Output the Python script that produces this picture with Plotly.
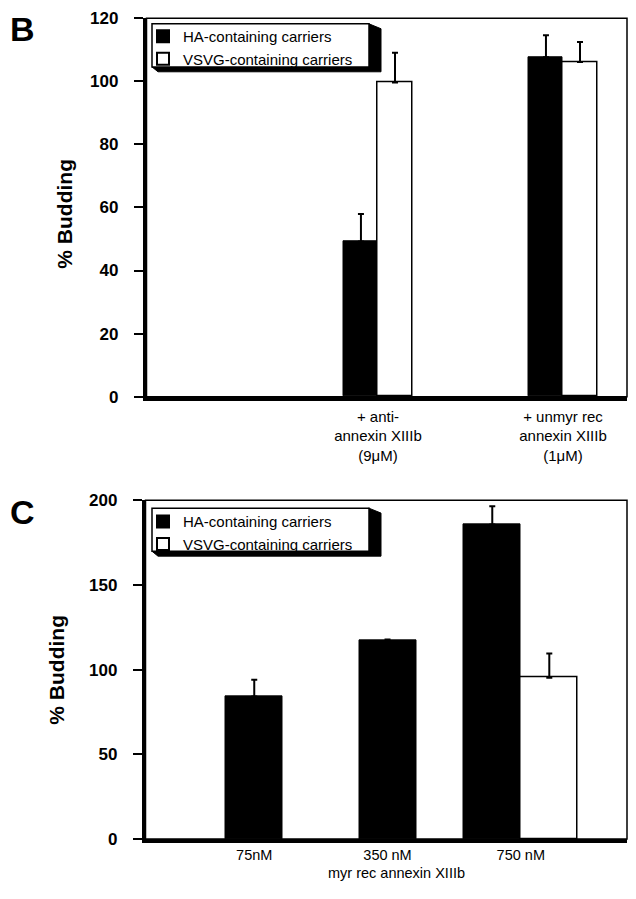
import plotly.graph_objects as go

# ---------------- data ----------------
cats_B = ["+ anti-<br>annexin XIIIb<br>(9μM)", "+ unmyr rec<br>annexin XIIIb<br>(1μM)"]
ha_B = [49.2, 107.6]
ha_B_err = [8.7, 7.0]
vsvg_B = [99.6, 106.1]
vsvg_B_err = [9.5, 6.4]
yticks_B = [0, 20, 40, 60, 80, 100, 120]

cats_C = ["75nM", "350 nM", "750 nM"]
ha_C = [84.2, 117.2, 185.7]
ha_C_err = [9.8, 0.6, 10.9]
vsvg_C = [None, None, 95.2]
vsvg_C_err = [0, 0, 14.3]
yticks_C = [0, 50, 100, 150, 200]

series_names = ["HA-containing carriers", "VSVG-containing carriers"]
xtitle_C = "myr rec annexin XIIIb"
ytitle = "% Budding"

# ---------------- layout helpers ----------------
PAGE_MARGIN = 8          # default body margin of the html page
W, H = 636 - 2 * PAGE_MARGIN, 899 - 2 * PAGE_MARGIN

def clamp(v):
    return max(0.0, min(1.0, v))

def px(x):
    return clamp((x - PAGE_MARGIN) / W)

def py(y):
    return clamp(1 - (y - PAGE_MARGIN) / H)

FONT = "Liberation Sans, Arial, Helvetica, sans-serif"

wB = 0.184
wC = 0.428

fig = go.Figure()

def err(arr):
    return dict(type="data", array=arr, arrayminus=[0] * len(arr), symmetric=False,
                color="black", thickness=2, width=3)

# Panel B
fig.add_trace(go.Bar(
    x=cats_B, y=ha_B, name=series_names[0], width=wB, offset=-wB,
    marker=dict(color="black", line=dict(color="black", width=1)),
    error_y=err(ha_B_err), xaxis="x", yaxis="y", legend="legend"))
fig.add_trace(go.Bar(
    x=cats_B, y=vsvg_B, name=series_names[1], width=wB, offset=0,
    marker=dict(color="white", line=dict(color="black", width=1.5)),
    error_y=err(vsvg_B_err), xaxis="x", yaxis="y", legend="legend"))

# Panel C
ha_off = [(-wC / 2 if v is None else -wC) for v in vsvg_C]
fig.add_trace(go.Bar(
    x=cats_C, y=ha_C, name=series_names[0], width=wC, offset=ha_off,
    marker=dict(color="black", line=dict(color="black", width=1)),
    error_y=err(ha_C_err), xaxis="x2", yaxis="y2", legend="legend2"))
fig.add_trace(go.Bar(
    x=cats_C, y=vsvg_C, name=series_names[1], width=wC, offset=0,
    marker=dict(color="white", line=dict(color="black", width=1.5)),
    error_y=err(vsvg_C_err), xaxis="x2", yaxis="y2", legend="legend2"))

common_y = dict(showline=True, linecolor="black", linewidth=3.5, ticks="outside", ticklen=9,
                tickwidth=2, tickcolor="black", showgrid=False, zeroline=False,
                tickfont=dict(family=FONT, size=17, color="black", weight="bold"),
                ticklabelstandoff=12)
common_x = dict(showline=True, linecolor="black", linewidth=4, ticks="", showgrid=False,
                zeroline=False)

legend_common = dict(xanchor="left", yanchor="top", bgcolor="rgba(0,0,0,0)", borderwidth=0,
                     font=dict(family=FONT, size=15, color="black"), tracegroupgap=0,
                     itemsizing="constant")

fig.update_layout(
    width=W, height=H, margin=dict(l=0, r=0, t=0, b=0),
    paper_bgcolor="white", plot_bgcolor="white",
    barmode="overlay", bargap=0,
    showlegend=True,
    xaxis=dict(domain=[px(146.5), px(627)], anchor="y", type="category",
               range=[-1.251, 1.346], ticklabelstandoff=3,
               tickfont=dict(family=FONT, size=15, color="black"), **common_x),
    yaxis=dict(domain=[py(396), py(9.3)], anchor="x", range=[0, 120],
               tickvals=yticks_B, **common_y),
    xaxis2=dict(domain=[px(145.5), px(627)], anchor="y2", type="category",
                range=[-0.816, 2.797], ticklabelstandoff=0,
                tickfont=dict(family=FONT, size=14.5, color="black"), **common_x),
    yaxis2=dict(domain=[py(848), py(502)], anchor="x2", range=[0, 200],
                tickvals=yticks_C, **common_y),
    legend=dict(x=px(143), y=py(11), **legend_common),
    legend2=dict(x=px(143), y=py(507), **legend_common),
)

shapes = []
# frames (top/right thinner lines)
for xr, yr in [("x domain", "y domain"), ("x2 domain", "y2 domain")]:
    shapes.append(dict(type="rect", xref=xr, yref=yr, x0=0, x1=1, y0=0, y1=1,
                       line=dict(color="black", width=1.5), layer="above"))

# legend boxes with 3D shadow
def legend_box(x0, y0, x1, y1):
    out = []
    path = (f"M{px(x1)},{py(y0)} L{px(x1+12)},{py(y0+5)} L{px(x1+12)},{py(y1+5)} "
            f"L{px(x0+6)},{py(y1+5)} L{px(x0)},{py(y1)} Z")
    out.append(dict(type="path", xref="paper", yref="paper", path=path,
                    fillcolor="black", line=dict(color="black", width=1), layer="below"))
    out.append(dict(type="rect", xref="paper", yref="paper", x0=px(x0), x1=px(x1),
                    y0=py(y1), y1=py(y0), fillcolor="white",
                    line=dict(color="black", width=1.5), layer="below"))
    return out
shapes += legend_box(152, 15, 369, 59)
shapes += legend_box(152, 510, 369, 554)
fig.update_layout(shapes=shapes)

def ann(text, x, y, size, angle=0, xanchor="center"):
    return dict(text=text, x=px(x), y=py(y), xref="paper", yref="paper",
                xanchor=xanchor, yanchor="middle", textangle=angle, showarrow=False,
                font=dict(family=FONT, size=size, color="black"))

annotations = [
    ann("<b>B</b>", 8, 20, 34, xanchor="left"),
    ann("<b>C</b>", 8, 514, 34, xanchor="left"),
    ann(f"<b>{ytitle}</b>", 65, 209, 21, -90),
    ann(f"<b>{ytitle}</b>", 57, 675, 21, -90),
    ann(xtitle_C, 396, 883, 14.5),
]
fig.update_layout(annotations=annotations)

fig.write_html("out.html")
